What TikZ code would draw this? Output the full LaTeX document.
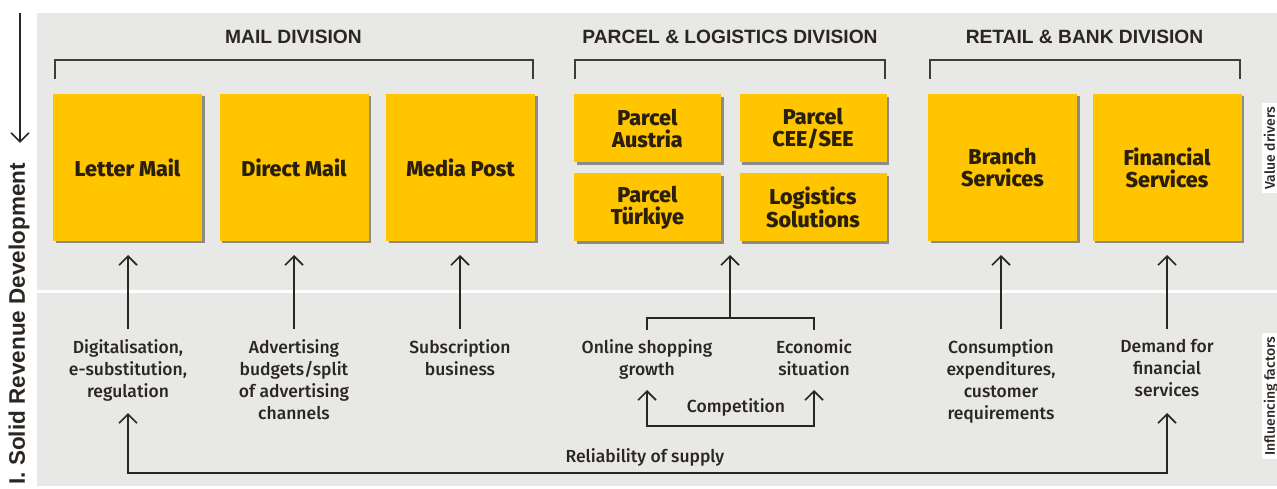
\documentclass[tikz,border=0pt]{standalone}
\usepackage{fontspec}
\setmainfont{Fira Sans}
\newfontfamily\medfont{Fira Sans Medium}
\newfontfamily\boxfont{Fira Sans ExtraBold}
\newfontfamily\headfont{Liberation Sans}
\usetikzlibrary{arrows.meta,shadows}
\definecolor{panel}{HTML}{E8E8E7}
\definecolor{gold}{HTML}{FFC600}
\definecolor{ink}{HTML}{2B2621}
\definecolor{boxink}{HTML}{2A1F0A}
\begin{document}
\begin{tikzpicture}[x=1pt,y=-1pt,
  barb/.tip={Straight Barb[length=9pt, width=18pt, line width=1.6pt]},
  unit/.style={fill=gold, inner sep=0pt, outer sep=0pt, align=center,
    text=boxink, font=\boxfont\fontsize{21.5}{22}\selectfont,
    drop shadow={shadow xshift=2.5pt, shadow yshift=-2.5pt, opacity=0.55, fill=black!75}},
  bigunit/.style={unit, minimum width=149pt, minimum height=147pt},
  smallunit/.style={unit, minimum width=147pt, minimum height=68pt},
  divtitle/.style={text=ink, font=\headfont\bfseries\fontsize{19.2}{21}\selectfont},
  factor/.style={text=ink, align=center, anchor=north, inner sep=0pt,
    font=\medfont\fontsize{17.5}{22}\selectfont},
  caption/.style={text=ink, font=\medfont\fontsize{17.5}{20}\selectfont},
  sidetag/.style={fill=white, rotate=90, anchor=north, inner xsep=4pt, inner ysep=1.5pt,
    text=ink, font=\medfont\fontsize{14}{16}\selectfont},
  link/.style={draw=ink, line width=1.6pt},
  arr/.style={link, -{barb}},
  biarr/.style={link, {barb}-{barb}},
  bracket/.style={draw=ink!90, line width=1.5pt}
]
\useasboundingbox (0,0) rectangle (1277,489);

% background panels
\fill[panel] (37,13) rectangle (1277,290);
\fill[panel] (37,293) rectangle (1277,486);

% left heading with downward arrow
\coordinate (topstart) at (20,13);
\coordinate (topend) at (20,143);
\draw[arr] (topstart) -- (topend);
\node[rotate=90, anchor=east, inner sep=0pt, text=ink,
  font=\headfont\bfseries\fontsize{22.5}{24}\selectfont] (heading) at (19,163)
  {I. Solid Revenue Development};

% right side tags
\node[sidetag] (vd) at (1262,148) {Value drivers};
\node[sidetag] (inf) at (1262,396) {Influencing factors};

% division titles and brackets
\node[divtitle] (tmail) at (293.5,37) {MAIL DIVISION};
\node[divtitle] (tparcel) at (730,37) {PARCEL \& LOGISTICS DIVISION};
\node[divtitle] (tretail) at (1084.5,37) {RETAIL \& BANK DIVISION};
\draw[bracket] (55,79) -- (55,60) -- (533,60) -- (533,79);
\draw[bracket] (575,79) -- (575,60) -- (885,60) -- (885,79);
\draw[bracket] (930,79) -- (930,60) -- (1240,60) -- (1240,79);

% business units
\node[bigunit] (letter) at (127.5,167.5) {Letter Mail};
\node[bigunit] (direct) at (294,167.5) {Direct Mail};
\node[bigunit] (media) at (460.5,167.5) {Media Post};
\node[smallunit] (paustria) at (647.5,128.5) {Parcel\\Austria};
\node[smallunit] (pcee) at (813,128.5) {Parcel\\CEE/SEE};
\node[smallunit] (pturkey) at (647.5,207.5) {Parcel\\Türkiye};
\node[smallunit] (logistics) at (813,207.5) {Logistics\\Solutions};
\node[bigunit] (branch) at (1002.5,167.5) {Branch\\Services};
\node[bigunit] (finance) at (1167,167.5) {Financial\\Services};

% influencing factors
\node[factor] (fdigit) at (128,339.5) {Digitalisation,\\e-substitution,\\regulation};
\node[factor] (fadv) at (294,339.5) {Advertising\\budgets/split\\of advertising\\channels};
\node[factor] (fsub) at (460,339.5) {Subscription\\business};
\node[factor] (fonline) at (647,339.5) {Online shopping\\growth};
\node[factor] (fecon) at (814,339.5) {Economic\\situation};
\node[factor] (fcons) at (1001,339.5) {Consumption\\expenditures,\\customer\\requirements};
\node[factor] (fdemand) at (1167,339.5) {Demand for\\financial\\services};

% factor -> unit arrows
\draw[arr] (128,329) -- (128,255);
\draw[arr] (294,329) -- (294,255);
\draw[arr] (460,329) -- (460,255);
\draw[arr] (1001,329) -- (1001,255);
\draw[arr] (1167,329) -- (1167,255);

% parcel & logistics fork
\coordinate (fork) at (730,318);
\coordinate (forkL) at (647,330);
\coordinate (forkR) at (814,330);
\draw[link] (forkL) |- (fork) -| (forkR);
\draw[arr] (fork) -- (730,255);

% competition loop
\coordinate (compL) at (647,390);
\coordinate (compR) at (814,390);
\draw[biarr] (compL) -- (647,426) -- (814,426) -- (compR);
\node[caption] (comp) at (736,407) {Competition};

% reliability of supply loop
\coordinate (relL) at (128,413);
\coordinate (relR) at (1167,413);
\draw[biarr] (relL) -- (128,473) -- (1167,473) -- (relR);
\node[caption] (rel) at (645,457) {Reliability of supply};
\end{tikzpicture}
\end{document}
